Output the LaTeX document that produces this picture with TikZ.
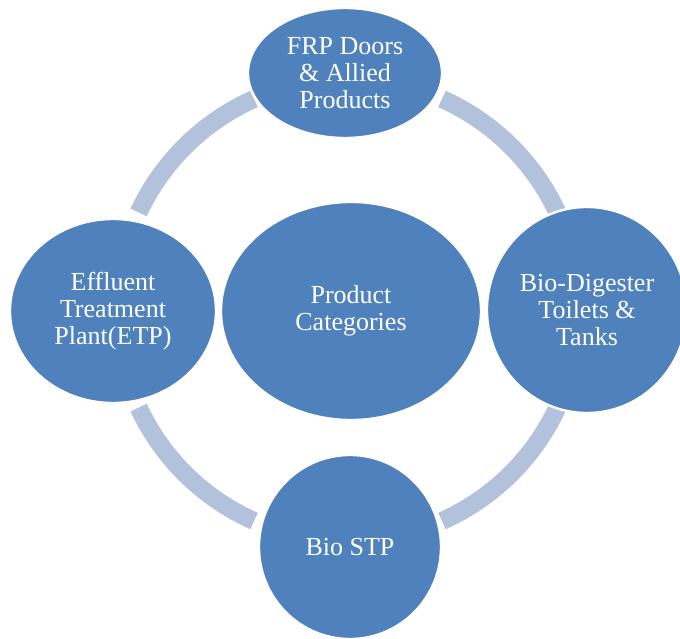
\documentclass[tikz,border=0pt]{standalone}
\usepackage{fontspec}
\setmainfont{Liberation Serif}
\usepackage{tikz}
\usetikzlibrary{shapes.geometric}
\definecolor{nodeblue}{HTML}{4F81BD}
\definecolor{ringblue}{HTML}{B2C1DC}
\begin{document}
\begin{tikzpicture}[x=0.025cm,y=0.025cm,
  blob/.style={ellipse, fill=nodeblue, draw=white, line width=0.06cm, inner sep=0pt, text=white, align=center, font=\fontsize{18.5}{19.2}\selectfont},
  ring/.style={draw=ringblue, line width=0.45cm, line cap=butt}]
\useasboundingbox (0,0) rectangle (680,639);
\coordinate (c) at (348,329);
\draw[ring] ([shift={(25:231)}]c) arc[start angle=25, end angle=66, radius=231];
\draw[ring] ([shift={(114:231)}]c) arc[start angle=114, end angle=155, radius=231];
\draw[ring] ([shift={(205:231)}]c) arc[start angle=205, end angle=246, radius=231];
\draw[ring] ([shift={(294:231)}]c) arc[start angle=294, end angle=335, radius=231];
\node[blob, minimum width=6.5cm, minimum height=5.45cm] (cat) at (351,328) {Product\\Categories};
\node[blob, minimum width=4.85cm, minimum height=3.25cm] (frp) at (345,566) {FRP Doors\\\& Allied\\Products};
\node[blob, minimum width=5cm, minimum height=5.15cm] (bio) at (587,329) {Bio-Digester\\Toilets \&\\Tanks};
\node[blob, minimum width=4.55cm, minimum height=4.6cm] (stp) at (350,92) {Bio STP};
\node[blob, minimum width=5.15cm, minimum height=4.6cm] (etp) at (113,328) {Effluent\\Treatment\\Plant(ETP)};
\end{tikzpicture}
\end{document}
